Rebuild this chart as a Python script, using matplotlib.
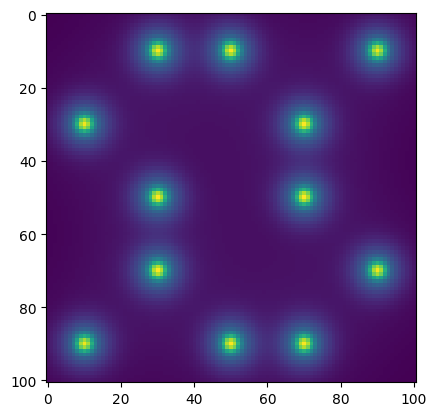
import numpy as np
import matplotlib
matplotlib.use("Agg")
import matplotlib.pyplot as plt

# Blob centres (column x, row y) in pixel coordinates
peak_x = [30, 50, 90, 10, 70, 30, 70, 30, 90, 10, 50, 70]
peak_y = [10, 10, 10, 30, 30, 50, 50, 70, 70, 90, 90, 90]
image_size = 101

yy, xx = np.mgrid[0:image_size, 0:image_size]
img = np.zeros((image_size, image_size))
for px, py in zip(peak_x, peak_y):
    r2 = (xx - px) ** 2 + (yy - py) ** 2
    img += 0.62 * np.exp(-r2 / (2 * 1.6 ** 2)) + 0.35 * np.exp(-r2 / (2 * 4.8 ** 2)) \
        + 0.04 * np.exp(-r2 / (2 * 15.0 ** 2))

fig, ax = plt.subplots(figsize=(6.4, 4.8), dpi=100)
ax.imshow(img, cmap="viridis")
fig.savefig("out.png", bbox_inches="tight")
